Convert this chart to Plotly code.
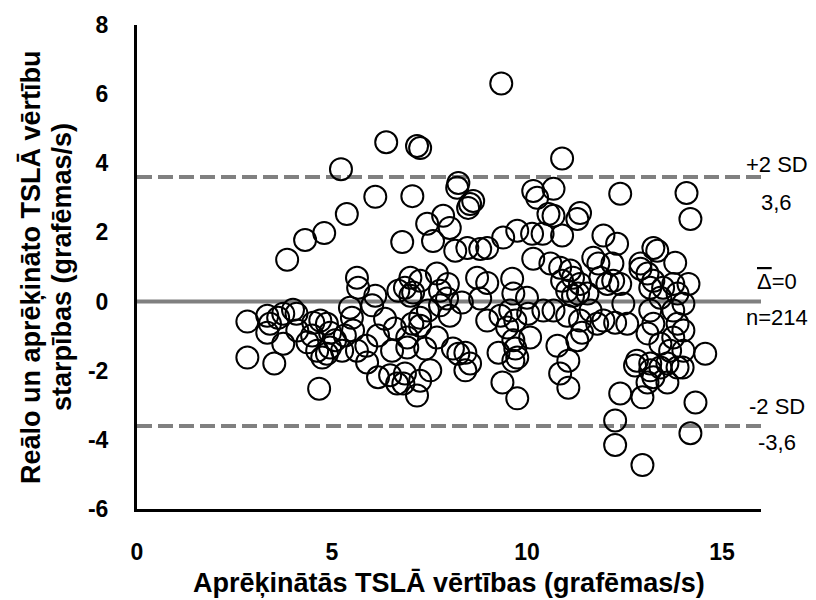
import plotly.graph_objects as go

# Bland-Altman data: computed TSLĀ value (x) vs. difference real - computed (y)
tsla_computed = [
    5.23, 5.38, 4.80, 4.31, 3.85, 5.64, 5.67, 2.83, 3.34, 3.41,
    3.62, 3.75, 4.00, 4.09, 3.34, 3.75, 4.11, 4.37, 4.70, 4.87,
    4.95, 4.75, 4.87, 4.95, 5.26, 4.62, 5.46, 5.51, 5.54, 5.64,
    2.83, 3.52, 4.67, 4.49, 5.08, 4.52, 5.33, 5.90, 6.18, 6.49,
    6.87, 6.67, 7.18, 7.26, 7.01, 7.95, 8.33, 7.46, 8.02, 7.06,
    7.26, 7.69, 6.93, 7.39, 8.10, 8.42, 8.54, 8.42, 7.52, 6.83,
    8.98, 9.32, 9.57, 9.70, 10.03, 10.42, 10.08, 9.27, 9.65, 9.70,
    9.65, 9.37, 9.75, 10.78, 11.06, 10.85, 11.06, 11.29, 11.41, 11.03,
    11.63, 11.80, 8.80, 10.00, 11.18, 11.55, 7.26, 7.77, 9.49, 9.75,
    6.93, 8.24, 9.34, 6.39, 7.18, 7.26, 10.90, 6.11, 7.06, 8.24,
    8.21, 8.54, 8.62, 8.49, 7.44, 7.85, 8.02, 6.80, 7.59, 8.16,
    8.47, 8.80, 8.98, 9.39, 9.75, 10.13, 10.16, 10.26, 10.68, 10.55,
    10.68, 10.90, 10.16, 10.60, 10.85, 7.01, 6.87, 7.26, 7.69, 7.97,
    8.72, 8.98, 9.62, 6.70, 7.08, 7.77, 9.65, 10.90, 11.03, 6.03,
    6.36, 6.18, 6.61, 5.88, 6.54, 6.11, 12.39, 14.09, 14.19, 11.36,
    11.29, 11.96, 12.31, 13.24, 13.34, 13.80, 11.70, 11.83, 12.19, 11.11,
    11.18, 11.36, 11.31, 11.88, 12.06, 12.21, 12.39, 12.91, 12.91, 13.09,
    13.24, 13.49, 13.75, 14.14, 13.16, 13.42, 13.86, 14.01, 12.47, 10.68,
    11.36, 11.96, 12.26, 12.57, 13.16, 13.24, 13.75, 13.86, 13.09, 13.42,
    13.75, 13.67, 14.01, 14.57, 12.82, 13.16, 13.60, 14.01, 13.99, 12.39,
    12.96, 14.32, 12.26, 14.19, 12.26, 12.96, 12.77, 13.16, 13.09, 13.60,
    13.42, 13.86, 13.24, 10.40,
]
tsla_difference = [
    3.83, 2.53, 1.98, 1.78, 1.21, 0.69, 0.40, -0.58, -0.41, -0.64,
    -0.47, -0.35, -0.24, -0.35, -0.90, -1.22, -0.84, -1.18, -0.55, -0.64,
    -0.90, -1.62, -1.51, -1.33, -1.42, -1.42, -0.18, -0.47, -0.84, -1.42,
    -1.62, -1.79, -2.52, -0.98, -1.12, -0.61, -0.98, -1.76, -2.19, -2.13,
    -2.08, -2.37, -2.72, -2.29, 0.17, 0.09, -0.03, -0.26, -0.41, -0.64,
    -0.70, -1.04, -1.33, -1.36, -1.36, -1.48, -1.79, -1.99, -1.99, -2.37,
    -0.55, -0.41, -0.26, -0.55, -0.35, -0.26, -1.04, -1.48, -1.12, -1.36,
    -1.71, -2.34, -2.80, -1.28, -1.71, -2.08, -2.49, -1.12, -0.90, -0.41,
    -0.26, -0.64, 0.09, 0.11, 0.17, 0.23, -0.47, -0.11, -0.75, -1.62,
    -1.04, -1.51, 6.31, 4.61, 4.50, 4.44, 4.14, 3.03, 3.05, 3.43,
    3.29, 2.82, 2.91, 2.71, 2.25, 2.48, 2.13, 1.72, 1.75, 1.47,
    1.55, 1.52, 1.55, 1.85, 2.05, 1.96, 3.20, 3.00, 3.26, 2.53,
    2.48, 1.91, 1.24, 1.10, 0.98, 0.69, 0.40, 0.60, 0.81, 0.51,
    0.69, 0.54, 0.66, 0.31, 0.26, 0.31, 0.23, 0.60, 0.31, -0.11,
    -0.50, -0.98, -0.78, -1.28, -1.42, 0.17, 3.12, 3.14, 2.39, 2.56,
    2.39, 1.91, 1.67, 1.55, 1.47, 1.12, 1.27, 1.10, 1.10, 0.90,
    0.69, 0.51, 0.23, 0.69, 0.51, 0.60, 0.51, 1.10, 0.95, 0.81,
    0.60, 0.40, 0.51, 0.51, 0.40, 0.11, 0.23, -0.06, -0.06, -0.26,
    -0.55, -0.55, -0.61, -0.64, -0.26, -0.64, -0.26, -0.64, -0.92, -1.22,
    -1.04, -1.42, -1.42, -1.51, -1.71, -1.79, -1.79, -0.84, -1.91, -2.66,
    -2.77, -2.92, -3.44, -3.81, -4.15, -4.73, -1.85, -1.99, -2.34, -2.34,
    -1.91, -1.91, -2.19, 1.96,
]

x_ticks = [0, 5, 10, 15]
y_ticks = [-6, -4, -2, 0, 2, 4, 6, 8]

x_title = "Aprēķinātās TSLĀ vērtības (grafēmas/s)"
y_title_lines = ["Reālo un aprēķināto TSLĀ vērtību", "starpības (grafēmas/s)"]

mean_diff = 0
upper_limit = 3.6
lower_limit = -3.6
n_points = 214
x_span = [0, 16]

line_gray = "#808080"
sans = "Liberation Sans, Arial, sans-serif"
label_font = dict(family=sans, size=22, color="black")
tick_font = dict(family=sans, size=23, color="black")
title_font = dict(family=sans, size=27, color="black")

fig = go.Figure()

# Mean difference and +/- 2 SD limits of agreement
fig.add_trace(go.Scatter(x=x_span, y=[mean_diff, mean_diff], mode="lines",
                         line=dict(color=line_gray, width=4), hoverinfo="skip"))
for lim in (upper_limit, lower_limit):
    fig.add_trace(go.Scatter(x=x_span, y=[lim, lim], mode="lines",
                             line=dict(color=line_gray, width=4, dash="15px,6px"),
                             hoverinfo="skip"))

fig.add_trace(go.Scatter(
    x=tsla_computed, y=tsla_difference, mode="markers",
    marker=dict(symbol="circle-open", size=22, color="black",
                line=dict(width=2, color="black")),
))

fig.update_layout(
    width=816, height=600,
    margin=dict(l=137, r=55, t=23, b=91),
    paper_bgcolor="white", plot_bgcolor="white",
    showlegend=False,
    xaxis=dict(range=[0, 16], tickvals=x_ticks,
               ticktext=[f"<b>{v}</b>" for v in x_ticks],
               showgrid=False, zeroline=False,
               showline=True, linewidth=3, linecolor="black", ticks="",
               tickfont=tick_font, ticklabelstandoff=20),
    yaxis=dict(range=[-6, 8], tickvals=y_ticks,
               ticktext=[f"<b>{v}</b>" for v in y_ticks],
               showgrid=False, zeroline=False, showline=True, linewidth=3,
               linecolor="black", ticks="",
               tickfont=tick_font, ticklabelstandoff=21),
)

# Axis titles
fig.add_annotation(x=0.5, xref="paper", y=0, yref="paper", yshift=-74,
                   text=f"<b>{x_title}</b>", showarrow=False,
                   xanchor="center", yanchor="middle", font=title_font)
for line_text, shift in zip(y_title_lines, (-106, -75)):
    fig.add_annotation(x=0, xref="paper", xshift=shift, y=0.5, yref="paper",
                       text=f"<b>{line_text}</b>", textangle=-90, showarrow=False,
                       xanchor="center", yanchor="middle", font=title_font)

# Labels for the mean and the limits of agreement
ann_x = 1.025
notes = [
    ("+2 SD", upper_limit, 13),
    (f"{upper_limit:.1f}".replace(".", ","), upper_limit, -25),
    ('<span style="text-decoration:overline">\u0394</span>=' + str(mean_diff), mean_diff, 20),
    (f"n={n_points}", mean_diff, -16),
    ("-2 SD", lower_limit, 20),
    (f"{lower_limit:.1f}".replace(".", ","), lower_limit, -16),
]
for text, yv, shift in notes:
    fig.add_annotation(x=ann_x, xref="paper", y=yv, yref="y", yshift=shift,
                       text=text, showarrow=False, xanchor="center", yanchor="middle",
                       font=label_font)

fig.write_html("out.html")
